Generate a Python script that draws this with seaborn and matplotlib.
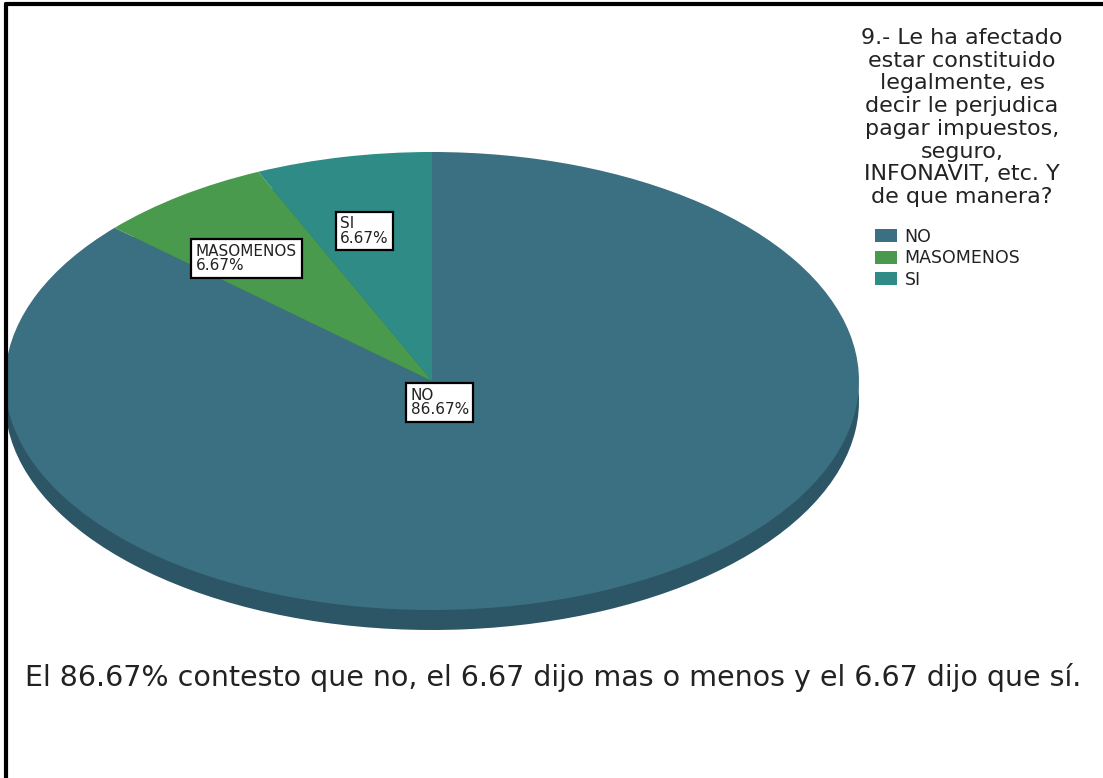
import numpy as np
import seaborn as sns
import matplotlib
matplotlib.use("Agg")
from matplotlib import pyplot as plt
from matplotlib.patches import Patch

sns.set_theme(style="white")
plt.rcParams['font.family'] = ['DejaVu Sans']

categorias = ["NO", "MASOMENOS", "SI"]
porcentajes = [86.67, 6.67, 6.67]
titulo = ("9.- Le ha afectado\nestar constituido\nlegalmente, es\ndecir le perjudica\n"
          "pagar impuestos,\nseguro,\nINFONAVIT, etc. Y\nde que manera?")
nota = "El 86.67% contesto que no, el 6.67 dijo mas o menos y el 6.67 dijo que sí."

colores = sns.color_palette(["#3b6f82", "#4a9a4e", "#2e8b86"])
sombras = sns.color_palette(["#2c5566", "#3a7a3e", "#236e6a"])

W, H = 1103, 778
fig = plt.figure(figsize=(W / 100, H / 100), dpi=100)

# elipse: centro (432,381) px, rx 427, ry 229, profundidad 20 px
depth = 20 / 229
ax = fig.add_axes([5 / W, (H - 630) / H, 854 / W, 478 / H])

# lado del pastel (efecto 3d)
ax.pie(porcentajes, colors=sombras, startangle=90, counterclock=False,
       radius=1, center=(0, -depth), wedgeprops=dict(linewidth=0), frame=False)
wedges, _ = ax.pie(porcentajes, colors=colores, startangle=90, counterclock=False,
                   radius=1, wedgeprops=dict(linewidth=0), frame=False)
ax.set_xlim(-1, 1)
ax.set_ylim(-1 - depth, 1)
ax.set_aspect("auto")
ax.axis("off")

# etiquetas
pos_etiq = {"NO": (-0.05, -0.03), "MASOMENOS": (-0.553, 0.60), "SI": (-0.215, 0.72)}
for cat, p in zip(categorias, porcentajes):
    x, y = pos_etiq[cat]
    ax.text(x, y, f"{cat}\n{p:.2f}%", ha="left", va="top", fontsize=11,
            color="#222222", linespacing=0.95,
            bbox=dict(boxstyle="square,pad=0.3", fc="white", ec="black", lw=1.6))

# titulo de la leyenda
fig.text(962 / W, 1 - 28 / H, titulo, ha="center", va="top", fontsize=16,
         linespacing=1.17, color="#222222")

# leyenda
handles = [Patch(facecolor=c, edgecolor="none") for c in colores]
leg = fig.legend(handles, categorias, loc="upper left",
                 bbox_to_anchor=(861 / W, 1 - 214 / H), frameon=False,
                 fontsize=12.5, handlelength=1.3, handleheight=0.8,
                 handletextpad=0.4, labelspacing=0.2, borderpad=0.3)
for t in leg.get_texts():
    t.set_color("#222222")

fig.text(553 / W, 1 - 677 / H, nota, ha="center", va="center", fontsize=20.5,
         color="#222222")

# marco
fig.add_artist(plt.Line2D([6 / W, 6 / W], [0, 1 - 4 / H], color="black", lw=3))
fig.add_artist(plt.Line2D([6 / W, 1], [1 - 4 / H, 1 - 4 / H], color="black", lw=3))

fig.savefig("out.png", dpi=100, facecolor="white")
